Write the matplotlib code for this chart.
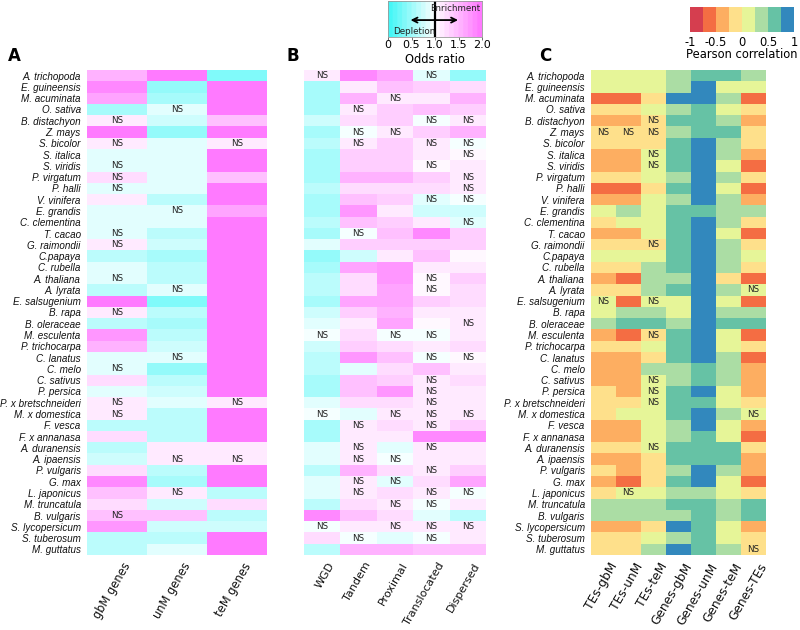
import numpy as np
import matplotlib
matplotlib.use('Agg')
import matplotlib.pyplot as plt
from matplotlib.colors import LinearSegmentedColormap, ListedColormap, BoundaryNorm, Normalize

species = ["A. trichopoda", "E. guineensis", "M. acuminata", "O. sativa", "B. distachyon",
           "Z. mays", "S. bicolor", "S. italica", "S. viridis", "P. virgatum", "P. halli",
           "V. vinifera", "E. grandis", "C. clementina", "T. cacao", "G. raimondii", "C.papaya",
           "C. rubella", "A. thaliana", "A. lyrata", "E. salsugenium", "B. rapa", "B. oleraceae",
           "M. esculenta", "P. trichocarpa", "C. lanatus", "C. melo", "C. sativus", "P. persica",
           "P. x bretschneideri", "M. x domestica", "F. vesca", "F. x annanasa", "A. duranensis",
           "A. ipaensis", "P. vulgaris", "G. max", "L. japonicus", "M. truncatula", "B. vulgaris",
           "S. lycopersicum", "S. tuberosum", "M. guttatus"]

# ---- Panel A: odds ratios ----
labels_A = ["gbM genes", "unM genes", "teM genes"]
gbM_genes = [1.5, 1.85, 1.6, 0.5, 1.15, 1.9, 1.15, 0.8, 0.8, 1.2,
             0.8, 1.15, 0.8, 0.85, 0.85, 1.15, 0.6, 0.8, 0.85, 0.6,
             1.9, 1.15, 0.6, 1.7, 1.5, 0.88, 0.85, 1.2, 0.8, 1.15,
             1.15, 0.6, 1.2, 0.6, 0.75, 1.2, 1.85, 1.4, 1.2, 1.4,
             1.7, 0.6, 0.6]
unM_genes = [1.9, 0.45, 0.5, 0.88, 0.75, 0.45, 0.8, 0.8, 0.8, 0.8,
             0.8, 0.6, 0.85, 0.8, 0.6, 0.75, 0.5, 0.65, 0.65, 0.85,
             0.3, 0.65, 0.5, 0.65, 0.7, 0.88, 0.4, 0.65, 0.75, 0.8,
             0.65, 0.65, 0.65, 1.15, 1.1, 0.65, 0.55, 1.15, 0.7, 1.4,
             0.7, 0.65, 0.85]
teM_genes = [0.3, 2.0, 2.0, 2.0, 1.45, 1.95, 1.15, 2.0, 2.0, 1.4,
             2.0, 2.0, 1.6, 2.0, 2.0, 2.0, 2.0, 2.0, 2.0, 2.0,
             2.0, 2.0, 2.0, 2.0, 2.0, 2.0, 2.0, 2.0, 2.0, 1.15,
             2.0, 2.0, 2.0, 1.15, 1.1, 2.0, 2.0, 0.6, 1.2, 0.65,
             0.7, 2.0, 2.0]
# non-significant cells (1-based species rows) per column
ns_A = [[5, 7, 9, 10, 11, 15, 16, 19, 22, 27, 30, 31, 40],
        [4, 13, 20, 26, 35, 38],
        [7, 30, 35]]

# ---- Panel B: odds ratios ----
labels_B = ["WGD", "Tandem", "Proximal", "Translocated", "Dispersed"]
wgd = [1.1, 0.55, 0.5, 0.55, 0.7, 0.55, 0.6, 0.55, 0.55, 0.55,
       0.6, 0.55, 0.55, 0.6, 0.55, 0.8, 0.4, 0.55, 0.6, 0.6,
       0.55, 0.75, 0.8, 0.9, 0.7, 0.6, 0.6, 0.55, 0.55, 0.8,
       0.9, 0.5, 0.5, 0.85, 0.8, 0.6, 0.8, 0.8, 0.6, 1.8,
       0.9, 1.2, 0.6]
tandem = [1.85, 1.1, 1.5, 1.1, 1.2, 0.9, 1.15, 1.3, 1.3, 1.5,
          1.2, 1.4, 1.7, 1.4, 0.9, 1.3, 0.75, 1.65, 1.2, 1.2,
          1.6, 1.3, 1.15, 1.2, 1.35, 1.75, 0.85, 1.4, 1.45, 1.25,
          0.85, 1.1, 1.1, 1.15, 1.1, 1.5, 1.1, 1.1, 1.25, 1.4,
          1.1, 0.9, 1.5]
proximal = [1.6, 1.4, 1.15, 1.35, 1.35, 1.15, 1.35, 1.3, 1.3, 1.5,
            1.2, 1.35, 1.15, 1.3, 1.45, 1.3, 1.15, 1.75, 1.7, 1.65,
            1.65, 1.55, 1.65, 0.9, 1.2, 1.4, 1.2, 1.3, 1.75, 1.2,
            1.1, 1.25, 1.15, 0.85, 0.9, 1.2, 0.85, 1.2, 1.1, 1.2,
            1.1, 0.85, 1.5]
translocated = [0.85, 1.35, 1.1, 1.4, 0.9, 1.3, 1.1, 1.15, 1.05, 1.35,
                1.2, 0.85, 0.75, 1.15, 1.8, 1.3, 1.45, 1.15, 1.05, 1.05,
                1.3, 1.15, 1.05, 0.9, 1.15, 0.9, 1.45, 1.1, 1.1, 1.1,
                1.1, 1.1, 1.8, 1.1, 1.15, 1.1, 1.25, 1.1, 0.9, 0.85,
                1.1, 0.9, 1.4]
dispersed = [0.45, 1.2, 1.5, 1.35, 1.1, 1.55, 0.9, 1.05, 1.1, 1.1,
             1.1, 0.9, 0.75, 0.85, 1.35, 1.3, 1.05, 1.1, 1.3, 1.25,
             1.2, 1.15, 1.1, 1.15, 1.25, 1.05, 1.15, 1.2, 1.15, 1.15,
             1.1, 1.3, 1.8, 1.15, 1.1, 1.3, 1.6, 0.9, 1.15, 0.6,
             1.1, 1.1, 1.45]
ns_B = [[1, 24, 31, 41],
        [4, 6, 7, 15, 32, 34, 35, 37, 38, 42],
        [3, 6, 24, 31, 35, 37, 39, 41],
        [1, 5, 7, 9, 12, 19, 20, 24, 26, 28, 29, 30, 31, 32, 34, 36, 38, 39, 41, 42],
        [5, 7, 8, 10, 11, 12, 14, 23, 26, 31, 38, 41]]

# ---- Panel C: Pearson correlations ----
labels_C = ["TEs-gbM", "TEs-unM", "TEs-teM", "Genes-gbM", "Genes-unM", "Genes-teM", "Genes-TEs"]
tes_gbm = [0.1, 0.1, -0.6, -0.1, -0.4, -0.1, -0.1, -0.4, -0.4, -0.1,
           -0.6, -0.4, 0.1, -0.1, -0.4, -0.1, 0.1, -0.1, -0.4, -0.1,
           0.1, 0.1, 0.4, -0.4, -0.1, -0.4, -0.4, -0.4, -0.1, -0.1,
           -0.1, -0.4, -0.4, -0.1, -0.4, -0.1, -0.4, -0.1, 0.4, 0.4,
           -0.4, -0.1, -0.1]
tes_unm = [0.1, 0.1, -0.6, -0.1, -0.4, -0.1, -0.1, -0.4, -0.4, -0.1,
           -0.6, -0.4, 0.4, 0.1, -0.4, -0.1, 0.1, -0.1, -0.6, -0.1,
           -0.6, 0.4, 0.6, -0.6, -0.1, -0.4, -0.4, -0.4, -0.4, -0.1,
           0.1, -0.4, -0.4, -0.1, -0.4, -0.4, -0.6, 0.1, 0.4, 0.4,
           -0.4, -0.1, -0.1]
tes_tem = [0.1, 0.1, -0.1, 0.1, -0.1, -0.1, -0.1, 0.1, 0.1, 0.1,
           -0.1, 0.1, 0.1, 0.1, 0.1, -0.1, 0.1, 0.4, 0.4, 0.4,
           0.1, 0.4, 0.6, -0.1, 0.1, -0.1, 0.4, 0.1, 0.1, 0.1,
           0.1, 0.1, 0.1, 0.1, -0.1, -0.1, -0.1, 0.1, 0.4, 0.4,
           -0.1, 0.1, 0.4]
genes_gbm = [0.4, 0.4, 0.9, 0.4, 0.6, 0.4, 0.6, 0.6, 0.6, 0.4,
             0.6, 0.4, 0.6, 0.6, 0.6, 0.6, 0.6, 0.6, 0.4, 0.6,
             0.1, 0.1, 0.4, 0.6, 0.6, 0.6, 0.4, 0.4, 0.6, 0.6,
             0.6, 0.4, 0.4, 0.6, 0.6, 0.4, 0.6, 0.4, 0.6, 0.4,
             0.9, 0.4, 0.9]
genes_unm = [0.6, 0.9, 0.9, 0.6, 0.6, 0.6, 0.9, 0.9, 0.9, 0.9,
             0.9, 0.9, 0.6, 0.9, 0.9, 0.9, 0.9, 0.9, 0.9, 0.9,
             0.9, 0.9, 0.9, 0.9, 0.9, 0.9, 0.6, 0.6, 0.9, 0.6,
             0.9, 0.9, 0.6, 0.6, 0.6, 0.9, 0.9, 0.4, 0.6, 0.6,
             0.6, 0.6, 0.6]
genes_tem = [0.6, 0.1, 0.4, 0.1, 0.4, 0.6, 0.4, 0.4, 0.1, 0.4,
             0.1, 0.4, 0.4, 0.4, 0.1, 0.4, 0.4, 0.4, -0.1, 0.4,
             0.1, 0.4, 0.6, 0.1, 0.1, 0.4, 0.4, 0.4, 0.1, 0.1,
             0.4, 0.1, 0.1, 0.6, 0.6, 0.4, 0.1, 0.1, 0.4, 0.4,
             0.1, 0.1, 0.4]
genes_tes = [0.4, 0.1, -0.6, -0.1, -0.4, -0.1, -0.1, -0.4, -0.6, -0.1,
             -0.6, -0.4, 0.4, -0.1, -0.6, -0.1, 0.1, -0.1, -0.6, 0.1,
             -0.6, 0.4, 0.6, -0.6, -0.1, -0.6, -0.4, -0.4, -0.4, -0.1,
             0.1, -0.4, -0.6, -0.1, -0.4, -0.4, -0.6, -0.1, 0.6, 0.6,
             -0.4, -0.1, -0.1]
ns_C = [[6, 21], [6, 38], [5, 6, 8, 9, 16, 21, 24, 28, 29, 30, 34], [], [], [], [20, 31, 43]]

odds_ticks = [0, 0.5, 1.0, 1.5, 2.0]
odds_ticklabels = ["0", "0.5", "1.0", "1.5", "2.0"]
corr_ticks = [-1, -0.5, 0, 0.5, 1]
corr_ticklabels = ["-1", "-0.5", "0", "0.5", "1"]

# ---------------- drawing ----------------
W, H = 800, 630
fig = plt.figure(figsize=(W / 100, H / 100), dpi=100)
SP_FONT = 'Liberation Sans'


def box(x0, y0, x1, y1):
    return fig.add_axes([x0 / W, 1 - y1 / H, (x1 - x0) / W, (y1 - y0) / H])


odds_cmap = LinearSegmentedColormap.from_list('odds', ['#46f7f7', '#ffffff', '#ff7aff'], N=20)
odds_norm = Normalize(0, 2)
corr_colors = ['#d53e4f', '#f46d43', '#fdae61', '#fee08b', '#e6f598', '#abdda4', '#66c2a5', '#3288bd']
corr_cmap = ListedColormap(corr_colors)
corr_norm = BoundaryNorm(np.linspace(-1, 1, 9), 8)


def heat(ax, cols, cmap, norm, ns, xlabels, show_species, lab_fs):
    M = np.array(cols).T
    nr, nc = M.shape
    ax.pcolormesh(np.arange(nc + 1), np.arange(nr + 1), M, cmap=cmap, norm=norm,
                  shading='flat', linewidth=0, antialiased=False)
    ax.set_xlim(0, nc)
    ax.set_ylim(nr, 0)
    for j, rows in enumerate(ns):
        for r in rows:
            ax.text(j + 0.5, r - 0.5, 'NS', ha='center', va='center', fontsize=6.3,
                    color='#222222')
    for s in ax.spines.values():
        s.set_visible(False)
    ax.tick_params(length=0, pad=4.5)
    ax.set_xticks([])
    if show_species:
        ax.set_yticks(np.arange(nr) + 0.5)
        ax.set_yticklabels(species, fontsize=7.1, style='italic', family=SP_FONT,
                           color='#111111')
    else:
        ax.set_yticks([])
    for j, lab in enumerate(xlabels):
        ax.annotate(lab, xy=(j + 0.5, nr), xycoords='data', xytext=(4, -4),
                    textcoords='offset points', rotation=60, ha='right', va='top',
                    rotation_mode='anchor', fontsize=lab_fs, color='#111111')


axA = box(87, 70, 267, 555)
heat(axA, [gbM_genes, unM_genes, teM_genes], odds_cmap, odds_norm, ns_A, labels_A, True, 8.3)
axB = box(304, 70, 486, 555)
heat(axB, [wgd, tandem, proximal, translocated, dispersed], odds_cmap, odds_norm, ns_B,
     labels_B, False, 8.0)
axC = box(591, 70, 766, 555)
heat(axC, [tes_gbm, tes_unm, tes_tem, genes_gbm, genes_unm, genes_tem, genes_tes],
     corr_cmap, corr_norm, ns_C, labels_C, True, 8.8)

for lab, x in [('A', 8), ('B', 286), ('C', 539)]:
    fig.text(x / W, 1 - 56 / H, lab, fontsize=12, fontweight='bold', va='center', ha='left')

# odds ratio colorbar
cb1 = box(388, 1, 482, 37)
grad = np.linspace(0, 2, 400)[None, :]
cb1.imshow(grad, cmap=odds_cmap, norm=odds_norm, aspect='auto', extent=(0, 2, 0, 1))
cb1.set_xlim(0, 2)
cb1.set_ylim(0, 1)
cb1.axvline(1.0, color='black', lw=1.6)
cb1.annotate('', xy=(0.42, 0.47), xytext=(1.55, 0.47),
             arrowprops=dict(arrowstyle='<->', lw=1.3, color='black', mutation_scale=9))
cb1.text(1.97, 0.8, 'Enrichment', fontsize=6.3, ha='right', va='center', color='#222222')
cb1.text(0.1, 0.15, 'Depletion', fontsize=6.3, ha='left', va='center', color='#222222')
cb1.set_yticks([])
cb1.set_xticks(odds_ticks)
cb1.set_xticklabels(odds_ticklabels, fontsize=8)
cb1.tick_params(axis='x', length=2, width=0.6, pad=0.5, color='#555555')
for s in cb1.spines.values():
    s.set_color('#999999')
    s.set_linewidth(0.6)
fig.text(435 / W, 1 - 59.5 / H, 'Odds ratio', fontsize=8.3, ha='center', va='center')

# correlation colorbar
cb2 = box(690, 7, 794, 32)
edges = np.linspace(-1, 1, 9)
cb2.pcolormesh(edges, [0, 1], ((edges[:-1] + edges[1:]) / 2)[None, :],
               cmap=corr_cmap, norm=corr_norm)
cb2.set_xlim(-1, 1)
cb2.set_ylim(0, 1)
cb2.set_yticks([])
cb2.set_xticks(corr_ticks)
cb2.set_xticklabels(corr_ticklabels, fontsize=8.3)
cb2.tick_params(axis='x', length=0, pad=3)
for s in cb2.spines.values():
    s.set_visible(False)
fig.text(742 / W, 1 - 55 / H, 'Pearson correlation', fontsize=8.3, ha='center', va='center')

fig.savefig('out.png', dpi=100, facecolor='white')
